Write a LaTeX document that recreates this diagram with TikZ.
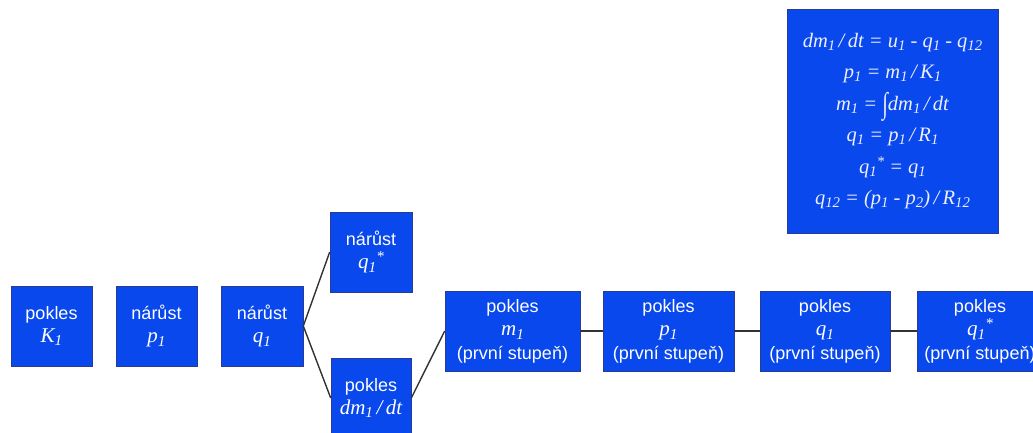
\documentclass[tikz,border=0pt]{standalone}
\usepackage{fontspec}
\setmainfont{Liberation Sans}
\newfontfamily\tms{Liberation Serif}
\definecolor{boxblue}{RGB}{8,72,236}
\definecolor{boxedge}{RGB}{40,60,150}
\definecolor{linegray}{RGB}{50,50,50}
\definecolor{eqwhite}{RGB}{238,238,255}
\newcommand\lo[1]{\raisebox{-0.35ex}{\scalebox{0.72}{#1}}}
\newcommand\hi[1]{\raisebox{0.75ex}{\scalebox{0.72}{#1}}}
\newcommand\mth[1]{{\fontsize{21}{23}\selectfont\tms\itshape #1}}
\newcommand\intg{\raisebox{-0.3ex}{\scalebox{1}[1.45]{∫}}}
\tikzset{
  blk/.style={draw=boxedge, line width=0.6pt, fill=boxblue, text=white, align=center,
    inner sep=0pt, minimum height=80pt,
    font=\fontsize{18}{23.5}\selectfont},
  link/.style={draw=linegray, line width=1.4pt},
}
\begin{document}
\begin{tikzpicture}[x=1pt,y=-1pt]
\useasboundingbox (0,0) rectangle (1033,432);
\clip (0,0) rectangle (1033,432);
\node[blk, minimum width=81pt] (K) at (51.5,326) {pokles\\\mth{K\lo{1}}};
\node[blk, minimum width=81pt] (P) at (156.5,326) {nárůst\\\mth{p\lo{1}}};
\node[blk, minimum width=82pt] (Q) at (262,326) {nárůst\\\mth{q\lo{1}}};
\node[blk, minimum width=82pt] (Qs) at (371,252) {nárůst\\\mth{q\lo{1}\hi{*}}};
\node[blk, minimum width=80pt] (D) at (371,398) {pokles\\\mth{dm\lo{1}\,/\,dt}};
\node[blk, minimum width=135pt] (M1) at (512.5,331) {pokles\\\mth{m\lo{1}}\\(první stupeň)};
\node[blk, minimum width=131pt] (P1) at (668.5,331) {pokles\\\mth{p\lo{1}}\\(první stupeň)};
\node[blk, minimum width=130pt] (Q1) at (825,331) {pokles\\\mth{q\lo{1}}\\(první stupeň)};
\node[blk, minimum width=126pt] (Q1s) at (980,331) {pokles\\\mth{q\lo{1}\hi{*}}\\(první stupeň)};
\node[draw=boxedge, line width=0.6pt, fill=boxblue, text=eqwhite, align=center,
  minimum width=211pt, minimum height=224pt, inner sep=0pt,
  font=\fontsize{20.5}{31.5}\selectfont\tms\itshape] (EQ) at (892.5,121)
  {dm\lo{1}\,/\,dt = u\lo{1} - q\lo{1} - q\lo{12}\\
   p\lo{1} = m\lo{1}\,/\,K\lo{1}\\
   m\lo{1} = \intg dm\lo{1}\,/\,dt\\
   q\lo{1} = p\lo{1}\,/\,R\lo{1}\\
   q\lo{1}\hi{*} = q\lo{1}\\
   q\lo{12} = (p\lo{1} - p\lo{2})\,/\,R\lo{12}};
\draw[link] (Q.east) -- (Qs.west);
\draw[link] (Q.east) -- (D.west);
\draw[link] (D.east) -- (M1.west);
\draw[link] (M1.east) -- (P1.west);
\draw[link] (P1.east) -- (Q1.west);
\draw[link] (Q1.east) -- (Q1s.west);
\end{tikzpicture}
\end{document}
